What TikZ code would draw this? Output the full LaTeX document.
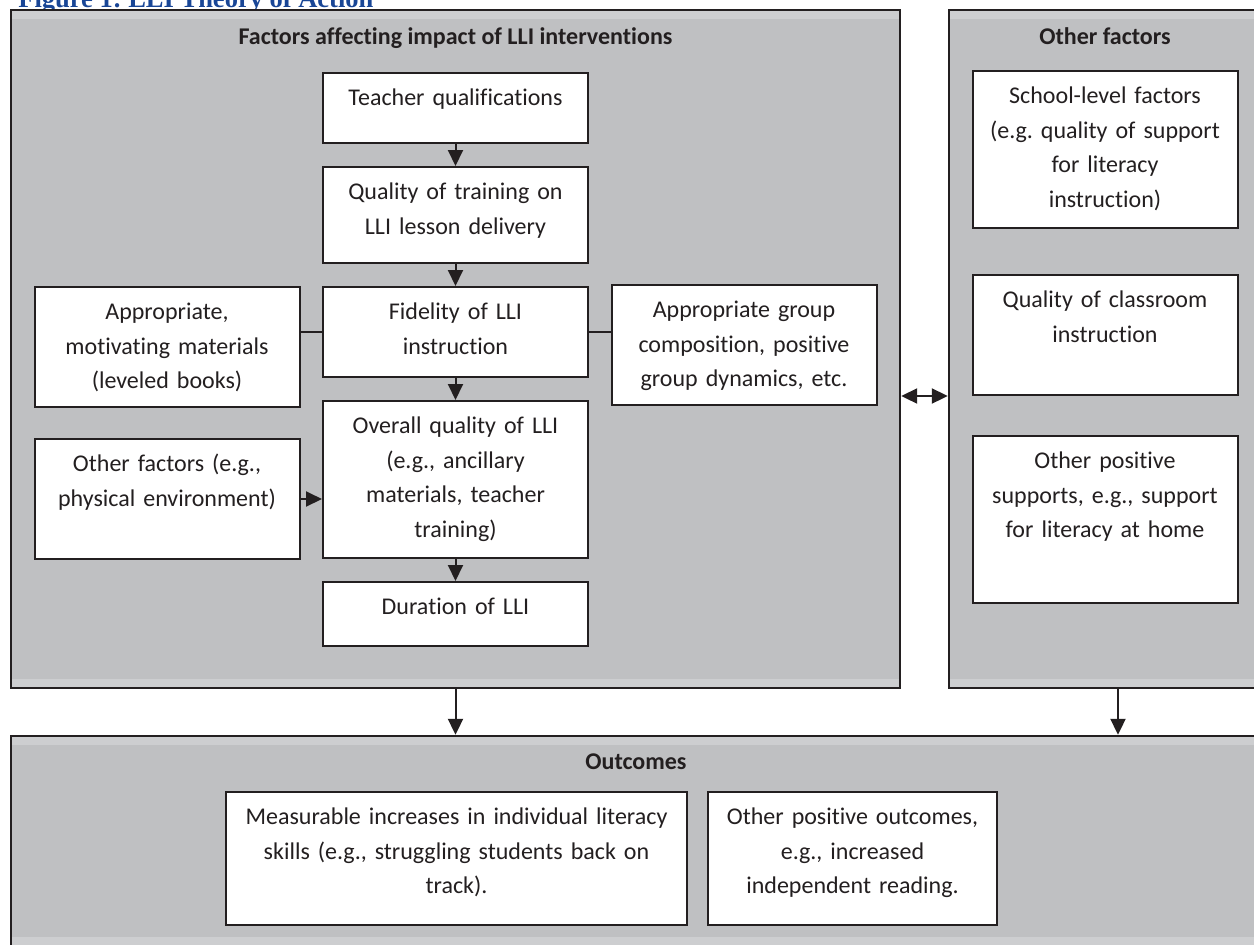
\documentclass[tikz,border=0pt]{standalone}
\usepackage{fontspec}
\setmainfont{Carlito}[Ligatures=NoCommon]
\newfontfamily\figfont{Liberation Serif}
\usepackage{xcolor}
\usepackage{tikz}
\usetikzlibrary{arrows.meta, positioning}
\definecolor{panelgray}{RGB}{191,192,194}
\definecolor{bandgray}{RGB}{205,206,208}
\definecolor{edge}{RGB}{35,31,32}
\definecolor{figblue}{RGB}{25,70,150}
\frenchspacing

\begin{document}
\begin{tikzpicture}[x=0.5pt, y=-0.5pt, node distance=11pt,
    panel/.style={rectangle, draw=edge, line width=1.2pt, fill=panelgray, inner sep=0pt,
        path picture={
            \fill[bandgray] (path picture bounding box.north west) rectangle ([yshift=-4.5pt]path picture bounding box.north east);
            \fill[bandgray] (path picture bounding box.south west) rectangle ([yshift=4.5pt]path picture bounding box.south east);}},
    head/.style={anchor=base, inner sep=0pt, font=\fontsize{12}{14}\selectfont\bfseries, text=edge},
    box/.style={rectangle, draw=edge, line width=1pt, fill=white, text width=132.5pt, align=center, inner sep=0pt, text height=16.4pt, text=edge, font=\fontsize{12}{17.2}\selectfont},
    arrow/.style={draw=edge, line width=1pt, -{Triangle[length=8pt, width=7.5pt]}},
    link/.style={draw=edge, line width=1.2pt}]

    \useasboundingbox (0,0) rectangle (1254,944);
    \clip (0,0) rectangle (1254,944);

    \node[anchor=base west, inner sep=0pt, text=figblue, font=\figfont\bfseries\fontsize{13.25}{15}\selectfont] (fig) at (18,7) {Figure 1: LLI Theory of Action};

    % panels
    \node[panel, minimum width=444.5pt, minimum height=339pt] (pl) at (455.5,349) {};
    \node[panel, minimum width=156pt, minimum height=339pt] (pr) at (1105,349) {};
    \node[panel, minimum width=625pt, minimum height=105pt] (po) at (636,841) {};

    \node[head] (hl) at (455.5,44) {Factors affecting impact of LLI interventions};
    \node[head] (hr) at (1105,44) {Other factors};
    \node[head] (ho) at (636,769) {Outcomes};

    % main column
    \node[box, text depth=18.6pt, anchor=north] (tq) at (455.5,72) {Teacher qualifications};
    \node[box, text depth=31.6pt, below=of tq] (tr) {Quality of training on\\LLI lesson delivery};
    \node[box, text depth=28.6pt, below=of tr] (fid) {Fidelity of LLI\\instruction};
    \node[box, text depth=62.1pt, below=of fid] (ovr) {Overall quality of LLI\\(e.g., ancillary\\materials, teacher\\training)};
    \node[box, text depth=15.6pt, below=of ovr] (dur) {Duration of LLI};

    \node[box, text depth=43.6pt, anchor=north] (mat) at (167,286) {Appropriate,\\motivating materials\\(leveled books)};
    \node[box, text depth=43.6pt, anchor=north] (oth) at (167,438) {Other factors (e.g.,\\physical environment)};
    \node[box, text depth=43.6pt, anchor=north] (grp) at (744,284) {Appropriate group\\composition, positive\\group dynamics, etc.};

    % other factors
    \node[box, text depth=62.1pt, anchor=north] (sch) at (1105,70) {School-level factors\\(e.g. quality of support\\for literacy\\instruction)};
    \node[box, text depth=43.6pt, anchor=north] (cls) at (1105,274) {Quality of classroom\\instruction};
    \node[box, text depth=67.1pt, anchor=north] (sup) at (1105,435) {Other positive\\supports, e.g., support\\for literacy at home};

    % outcomes
    \node[box, text width=230.5pt, text depth=50.1pt, anchor=north] (inc) at (456.5,791) {Measurable increases in individual literacy\\skills (e.g., struggling students back on\\track).};
    \node[box, text width=144.5pt, text depth=50.1pt, anchor=north] (pos) at (852.5,791) {Other positive outcomes,\\e.g., increased\\independent reading.};

    \draw[arrow] (tq) -- (tr);
    \draw[arrow] (tr) -- (fid);
    \draw[arrow] (fid) -- (ovr);
    \draw[arrow] (ovr) -- (dur);
    \draw[link] (fid.west) -- (fid.west -| mat.east);
    \draw[link] (fid.east) -- (fid.east -| grp.west);
    \draw[arrow] (oth.east) -- (oth.east -| ovr.west);

    \coordinate (rs) at ([xshift=6.5pt]pr.south);
    \draw[arrow, {Triangle[length=8pt, width=7.5pt]}-{Triangle[length=8pt, width=7.5pt]}] (pl.east |- cls.south) -- (pr.west |- cls.south);
    \draw[arrow] (pl.south) -- (po.north -| pl.south);
    \draw[arrow] (rs) -- (po.north -| rs);

\end{tikzpicture}
\end{document}
